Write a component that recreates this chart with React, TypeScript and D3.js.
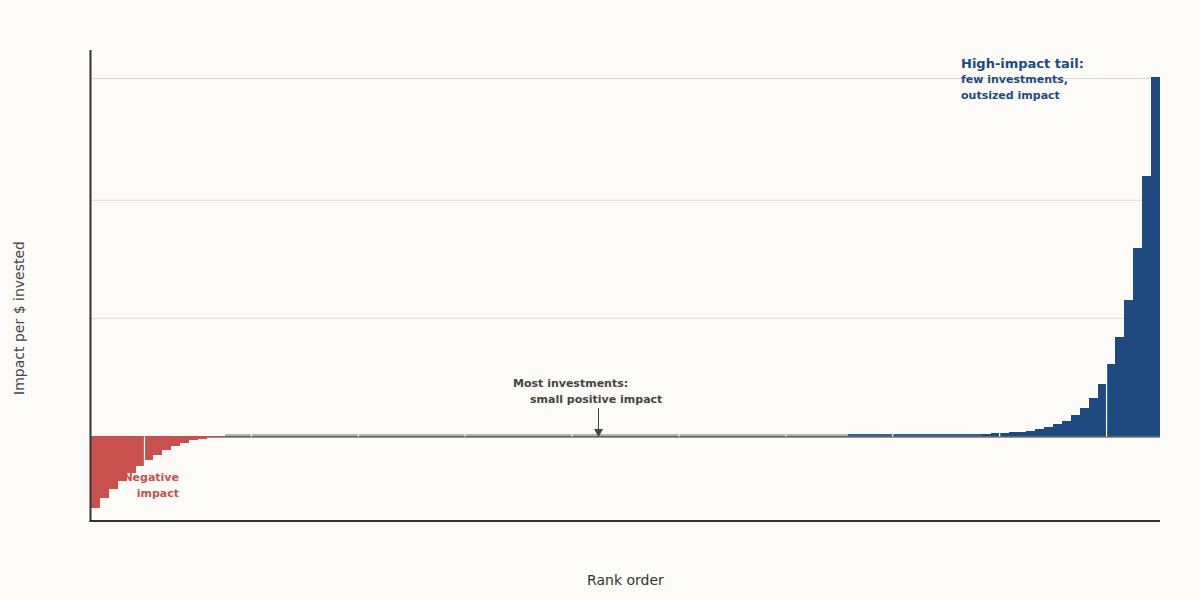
import React from "react";
import * as d3 from "d3";

// ---- Data (gridline unit = 1) ----
const negativeValues = [
  -0.604, -0.524, -0.445, -0.378, -0.312, -0.248, -0.197, -0.155, -0.113, -0.079,
  -0.053, -0.030, -0.019, -0.008, -0.003,
];
const smallPositiveValues = [
  0.02, 0.02, 0.02, 0.02, 0.02, 0.02, 0.02, 0.02, 0.02, 0.02,
  0.02, 0.02, 0.02, 0.02, 0.02, 0.02, 0.02, 0.02, 0.02, 0.02,
  0.02, 0.02, 0.02, 0.02, 0.02, 0.02, 0.02, 0.02, 0.02, 0.02,
  0.02, 0.02, 0.02, 0.02, 0.02, 0.02, 0.02, 0.02, 0.02, 0.02,
  0.02, 0.02, 0.02, 0.02, 0.02, 0.02, 0.02, 0.02, 0.02, 0.02,
  0.02, 0.02, 0.02, 0.02, 0.02, 0.02, 0.02, 0.02, 0.02, 0.02,
  0.02, 0.02, 0.02, 0.02, 0.02, 0.02, 0.02, 0.02, 0.02, 0.02,
];
const moderateValues = [
  0.023, 0.023, 0.023, 0.023, 0.023, 0.023, 0.023, 0.023, 0.023, 0.023,
  0.023, 0.023, 0.023, 0.023, 0.023,
];
const tailValues = [
  0.023, 0.031, 0.031, 0.04, 0.04, 0.048, 0.065, 0.082, 0.108, 0.133,
  0.184, 0.243, 0.328, 0.446, 0.613, 0.842, 1.155, 1.595, 2.205, 3.043,
];
const gridValues = [1, 2, 3.03];
const dividerRanks = [6, 18, 30, 42, 54, 66, 78, 90, 102, 114];
const yDomain: [number, number] = [-0.716, 3.272];

const COLORS = {
  bg: "#fcfbf7",
  negative: "#c8514f",
  small: "#a9b4bf",
  moderate: "#2e6399",
  tail: "#1f4a80",
  grid: "#dcdad4",
  axis: "#333333",
  note: "#444444",
};

type Bar = { rank: number; value: number; group: string };

const groups: [string, number[]][] = [
  ["negative", negativeValues],
  ["small", smallPositiveValues],
  ["moderate", moderateValues],
  ["tail", tailValues],
];
const bars: Bar[] = [];
groups.forEach(([g, vals]) => vals.forEach((v) => bars.push({ rank: bars.length, value: v, group: g })));

const W = 1200;
const H = 600;
const M = { left: 91, right: 1160, top: 50, bottom: 521 };

export default function App() {
  const n = bars.length;
  const x = d3.scaleLinear().domain([0, n]).range([M.left, M.right]);
  const y = d3.scaleLinear().domain(yDomain).range([M.bottom, M.top]);
  const y0 = y(0);
  const ff = "'DejaVu Sans', sans-serif";

  return (
    <svg
      width={W}
      height={H}
      style={{ position: "fixed", left: 0, top: 0, background: COLORS.bg }}
      fontFamily={ff}
    >
      <rect x={0} y={0} width={W} height={H} fill={COLORS.bg} />
      {gridValues.map((g) => (
        <line key={g} x1={M.left} x2={M.right} y1={y(g)} y2={y(g)} stroke={COLORS.grid} strokeWidth={1} />
      ))}
      <line x1={M.left} x2={M.right} y1={y0 + 0.5} y2={y0 + 0.5} stroke={COLORS.axis} strokeWidth={1.2} />
      {bars.map((b) => {
        const top = b.value >= 0 ? y(b.value) : y0;
        const h = Math.abs(y(b.value) - y0);
        return (
          <rect
            key={b.rank}
            x={x(b.rank)}
            width={x(b.rank + 1) - x(b.rank)}
            y={top}
            height={h}
            fill={(COLORS as any)[b.group]}
            shapeRendering="crispEdges"
          />
        );
      })}
      {dividerRanks.map((r) => {
        const a = bars[r - 1].value;
        const b = bars[r].value;
        const hi = Math.max(a, b, 0);
        const lo = Math.min(a, b, 0);
        return (
          <line
            key={r}
            x1={x(r)}
            x2={x(r)}
            y1={y(hi)}
            y2={y(lo)}
            stroke="#ffffff"
            strokeWidth={1.2}
          />
        );
      })}
      {/* axes */}
      <line x1={M.left - 0.5} x2={M.left - 0.5} y1={M.top} y2={M.bottom + 1} stroke={COLORS.axis} strokeWidth={2} />
      <line x1={M.left - 1.5} x2={M.right} y1={M.bottom} y2={M.bottom} stroke={COLORS.axis} strokeWidth={2} />

      {/* annotations */}
      <text x={961} y={68} fill={COLORS.tail} fontSize={13} fontWeight="bold">High-impact tail:</text>
      <text x={961} y={83} fill={COLORS.tail} fontSize={11} fontWeight="bold">few investments,</text>
      <text x={961} y={99} fill={COLORS.tail} fontSize={11} fontWeight="bold">outsized impact</text>

      <text x={513} y={387} fill={COLORS.note} fontSize={11} fontWeight="bold">Most investments:</text>
      <text x={530} y={403} fill={COLORS.note} fontSize={11} fontWeight="bold">small positive impact</text>
      <line x1={598.5} x2={598.5} y1={408} y2={430} stroke={COLORS.note} strokeWidth={1} />
      <path d={`M594,429 L603,429 L598.5,437 Z`} fill={COLORS.note} />

      <text x={179} y={481} fill={COLORS.negative} fontSize={11} fontWeight="bold" textAnchor="end">Negative</text>
      <text x={179} y={497} fill={COLORS.negative} fontSize={11} fontWeight="bold" textAnchor="end">impact</text>

      <text x={(M.left + M.right) / 2} y={585} fill="#333" fontSize={14} textAnchor="middle">Rank order</text>
      <text transform={`translate(24,318) rotate(-90)`} fill={COLORS.note} fontSize={14} textAnchor="middle">
        Impact per $ invested
      </text>
    </svg>
  );
}
